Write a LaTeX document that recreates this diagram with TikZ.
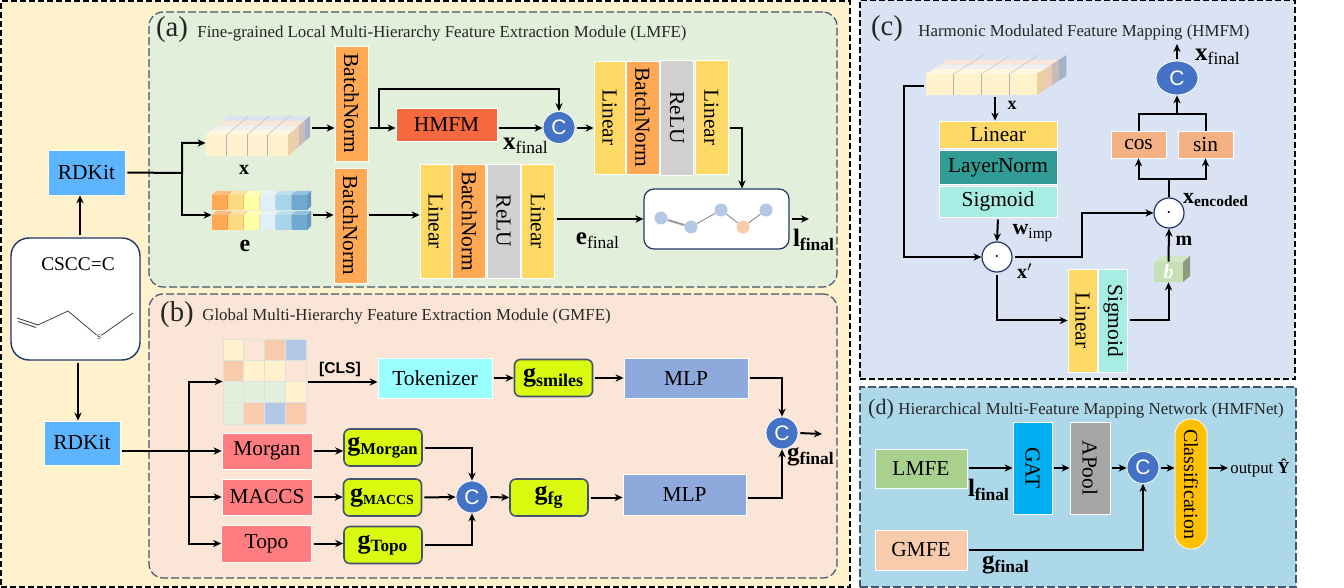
\documentclass[tikz,border=0pt]{standalone}
\usepackage{fontspec}
\setmainfont{Liberation Serif}
\setsansfont{Liberation Sans}
\usetikzlibrary{arrows.meta, positioning, shapes.geometric, calc}
\definecolor{OuterYellow}{RGB}{255, 242, 204}
\definecolor{LocalGreen}{RGB}{226, 239, 218}
\definecolor{GlobalPink}{RGB}{251, 229, 214}
\definecolor{HarmBlue}{RGB}{218, 227, 243}
\definecolor{NetBlue}{RGB}{173, 216, 234}
\definecolor{PanelLine}{RGB}{68, 84, 106}
\definecolor{NavyLine}{RGB}{31, 56, 100}
\definecolor{RdkitBlue}{RGB}{93, 181, 255}
\definecolor{NormOrange}{RGB}{255, 169, 85}
\definecolor{LinearYellow}{RGB}{255, 217, 102}
\definecolor{ReluGray}{RGB}{208, 208, 208}
\definecolor{HmfmRed}{RGB}{244, 105, 61}
\definecolor{CatBlue}{RGB}{68, 114, 196}
\definecolor{TokenCyan}{RGB}{153, 255, 255}
\definecolor{FeatLime}{RGB}{217, 251, 16}
\definecolor{MlpBlue}{RGB}{142, 169, 219}
\definecolor{FingerRed}{RGB}{255, 124, 128}
\definecolor{LayerTeal}{RGB}{49, 155, 149}
\definecolor{SigmaAqua}{RGB}{168, 237, 227}
\definecolor{TrigOrange}{RGB}{244, 177, 131}
\definecolor{CubeGreen}{RGB}{197, 224, 180}
\definecolor{LmfeGreen}{RGB}{169, 209, 142}
\definecolor{GmfePeach}{RGB}{248, 203, 173}
\definecolor{GatBlue}{RGB}{0, 176, 240}
\definecolor{PoolGray}{RGB}{166, 166, 166}
\definecolor{ClassGold}{RGB}{255, 192, 0}
\definecolor{CellBlue}{RGB}{180, 199, 231}
\definecolor{EmbAmber}{RGB}{255, 217, 127}
\definecolor{EmbLemon}{RGB}{255, 255, 165}
\definecolor{EmbPale}{RGB}{224, 240, 248}
\definecolor{EmbSky}{RGB}{168, 213, 234}
\definecolor{EmbDeep}{RGB}{111, 168, 208}
\newcommand{\vtext}[1]{\rotatebox{-90}{#1}}
\newcommand{\feat}[2]{\textbf{#1}\textsubscript{#2}}
\newcommand{\featb}[2]{\textbf{#1}\textsubscript{\textbf{#2}}}
\newcommand{\gfeat}[2][8.3]{\textbf{g}\textsubscript{\textbf{\fontsize{#1}{9}\selectfont #2}}}
\tikzset{
  box/.style={rectangle, draw=white, fill=#1, inner sep=0pt, text=black,
              font=\fontsize{10.7}{12}\selectfont, align=center},
  gbox/.style={rectangle, rounded corners=3pt, draw=PanelLine, fill=FeatLime, thick,
               minimum width=39pt, minimum height=18.5pt, inner sep=0pt,
               font=\fontsize{13}{14}\selectfont},
  grpbox/.style={rectangle, draw=#1, dash pattern=on 4pt off 1.5pt, line width=0.6pt, inner sep=0pt},
  cat/.style={circle, fill=CatBlue, draw=white, text=white, inner sep=0pt,
              minimum size=16pt, font=\fontsize{10.5}{12}\sffamily},
  dotop/.style={circle, fill=white, draw=NavyLine, line width=0.6pt, inner sep=0pt,
                minimum size=15pt},
  arr/.style={-{Stealth[length=4pt, width=3.6pt]}, line width=1pt, black, shorten <=1pt},
  arrj/.style={arr, shorten <=0pt},
  seg/.style={line width=1pt, black},
  title/.style={anchor=west, inner sep=0pt, font=\fontsize{8.42}{10}\selectfont, text=black!85},
  tag/.style={inner sep=0pt, font=\fontsize{14.4}{16}\selectfont, text=black!85},
  lab/.style={inner sep=0pt, font=\fontsize{12.5}{13}\selectfont},
  tenx/.pic={
    \foreach \ta/\tb/\cc in {0/.25/OuterYellow!60!white, .25/.5/black!6, .5/.75/GlobalPink, .75/1/HarmBlue}
      \fill[\cc] ({\ta*22},{-21-\ta*19}) -- ({82+\ta*22},{-21-\ta*19}) -- ({82+\tb*22},{-21-\tb*19}) -- ({\tb*22},{-21-\tb*19}) -- cycle;
    \foreach \ta/\tb/\cc in {0/.25/brown!30!OuterYellow, .25/.5/brown!25!GlobalPink, .5/.75/gray!40!GlobalPink, .75/1/gray!30!CellBlue}
      \fill[\cc] ({82+\ta*22},{-\ta*19}) -- ({82+\tb*22},{-\tb*19}) -- ({82+\tb*22},{-21-\tb*19}) -- ({82+\ta*22},{-21-\ta*19}) -- cycle;
    \fill[OuterYellow] (0,0) rectangle (82,-21);
    \foreach \sx in {20.5,41,61.5} {
      \draw[gray!60, line width=0.5pt] (\sx,0) -- (\sx,-21);
      \draw[gray!45, line width=0.3pt] (\sx,-21) -- ({\sx+22},-40);
    }
  },
}
\begin{document}
\begin{tikzpicture}[x=0.5pt, y=-0.5pt]
  \useasboundingbox (0,0) rectangle (1344,588);

  % panels
  \node[grpbox=black, dash pattern=on 3pt off 1.5pt, fill=OuterYellow, minimum width=424.5pt, minimum height=293pt] (outer) at (425.5,294) {};
  \node[grpbox=PanelLine, fill=LocalGreen, rounded corners=7pt, minimum width=344pt, minimum height=137.5pt] (lmfe) at (493,149.5) {};
  \node[grpbox=PanelLine, fill=GlobalPink, rounded corners=7pt, minimum width=344pt, minimum height=142pt] (gmfe) at (493,436) {};
  \node[grpbox=black, dash pattern=on 3pt off 1.5pt, fill=HarmBlue, minimum width=217.5pt, minimum height=189.5pt] (hmfm) at (1077.5,189.5) {};
  \node[grpbox=PanelLine, fill=NetBlue, line width=0.8pt, minimum width=218pt, minimum height=100pt] (hmfnet) at (1078,487) {};

  \node[tag] (taga) at (172,30) {(a)};
  \node[title] (titlea) at (197,33) {Fine-grained Local Multi-Hierarchy Feature Extraction Module (LMFE)};
  \node[tag] (tagb) at (177,315) {(b)};
  \node[title] (titleb) at (202,316) {Global Multi-Hierarchy Feature Extraction Module (GMFE)};
  \node[tag] (tagc) at (887,29) {(c)};
  \node[title] (titlec) at (918,32) {Harmonic Modulated Feature Mapping (HMFM)};
  \node[tag, font=\fontsize{11}{12}\selectfont] (tagd) at (881,409) {(d)};
  \node[title] (titled) at (898,410) {Hierarchical Multi-Feature Mapping Network (HMFNet)};

  % molecule
  \node[rectangle, rounded corners=9pt, draw=NavyLine, line width=0.7pt, fill=white,
        minimum width=64.5pt, minimum height=61pt] (mol) at (75.5,299) {};
  \node[inner sep=0pt, font=\fontsize{9.7}{11}\selectfont] (smiles) at (78,264) {CSCC=C};
  \node[inner sep=0pt, font=\fontsize{3.5}{4}\selectfont] (sulfur) at (99,337) {S};
  \draw[black!75, line width=0.4pt] (17,318) -- (38,325) -- (68,311) -- (sulfur) -- (133,313);
  \draw[black!75, line width=0.4pt] (18,321.5) -- (36,327.5);
  \node[box=RdkitBlue, minimum width=38.5pt, minimum height=22.5pt] (rdka) at (86.5,172.5) {RDKit};
  \node[box=RdkitBlue, minimum width=38pt, minimum height=22pt] (rdkb) at (82,443) {RDKit};

  % lmfe
  \node[minimum width=52pt, minimum height=20pt, inner sep=0pt] (xt) at (258,136) {};
  \pic at (206,156) {tenx};
  \node[inner sep=0pt, font=\fontsize{10}{11}\bfseries\selectfont] (xlab) at (244,170) {x};
  \node[minimum width=49.5pt, minimum height=19.5pt, inner sep=0pt] (et) at (261.5,210.5) {};
  \foreach \ry in {210,230}
    \foreach \cx/\cc in {212/NormOrange, 228/EmbAmber, 244/EmbLemon, 260/EmbPale, 276/EmbSky, 292/EmbDeep} {
      \fill[\cc!75!white] (\cx,\ry-15) -- (\cx+4,\ry-19) -- (\cx+19,\ry-19) -- (\cx+15,\ry-15) -- cycle;
      \fill[\cc!90!black] (\cx+15,\ry-15) -- (\cx+19,\ry-19) -- (\cx+19,\ry-4) -- (\cx+15,\ry) -- cycle;
      \fill[\cc] (\cx,\ry) rectangle (\cx+15,\ry-15);
    }
  \node[inner sep=0pt, font=\fontsize{12}{13}\bfseries\selectfont] (elab) at (245,246) {e};
  \node[box=NormOrange, minimum width=16.5pt, minimum height=57.5pt] (bna) at (351.5,103.5) {\vtext{BatchNorm}};
  \node[box=NormOrange, minimum width=16.5pt, minimum height=57.5pt] (bnb) at (350.5,225.5) {\vtext{BatchNorm}};
  \node[box=HmfmRed, minimum width=50.5pt, minimum height=16.5pt] (hmfmbox) at (446.5,124.5) {HMFM};
  \node[cat] (cata) at (559,127.5) {C};
  \node[lab] (xfinala) at (526,146) {\feat{x}{final}};

  \node[box=LinearYellow, minimum width=15.5pt, minimum height=56.5pt] (lina) at (609.5,117.5) {\vtext{Linear}};
  \node[box=NormOrange, minimum width=16.5pt, minimum height=56.5pt, right=0.25pt of lina] (bnc) {\vtext{BatchNorm}};
  \node[box=ReluGray, minimum width=16.5pt, minimum height=57.5pt, right=0.25pt of bnc] (relua) {\vtext{ReLU}};
  \node[box=LinearYellow, minimum width=16.5pt, minimum height=57pt, right=0.25pt of relua] (linb) {\vtext{Linear}};

  \node[box=LinearYellow, minimum width=15.5pt, minimum height=57pt] (linc) at (435.5,221) {\vtext{Linear}};
  \node[box=NormOrange, minimum width=16.5pt, minimum height=57pt, right=0.5pt of linc] (bnd) {\vtext{BatchNorm}};
  \node[box=ReluGray, minimum width=16.5pt, minimum height=57pt, right=0.25pt of bnd] (relub) {\vtext{ReLU}};
  \node[box=LinearYellow, minimum width=16.5pt, minimum height=57pt, right=0.25pt of relub] (lind) {\vtext{Linear}};
  \node[lab] (efinal) at (598,241) {\feat{e}{final}};

  \node[rectangle, rounded corners=5pt, draw=NavyLine, line width=0.6pt, fill=white,
        minimum width=72.5pt, minimum height=30pt] (graph) at (716.5,219) {};
  \foreach \gn/\gx/\gy/\gc in {ga/661/218/CellBlue, gb/691/227/CellBlue, gc/721/210/CellBlue, gd/743/227/GmfePeach, ge/766/210/CellBlue}
    \node[circle, fill=\gc, inner sep=0pt, minimum size=6.5pt] (\gn) at (\gx,\gy) {};
  \draw[gray!80, line width=1pt] (ga) -- (gb);
  \draw[gray, line width=0.4pt] (gb) -- (gc) -- (gd) -- (ge);
  \node[lab] (lfinala) at (814,240) {\featb{l}{final}};

  % gmfe
  \node[minimum width=41.5pt, minimum height=42.5pt, inner sep=0pt] (grid) at (264.5,381.5) {};
  \foreach \gr [count=\j from 0] in {
      {OuterYellow,GlobalPink,GmfePeach,CellBlue},
      {GmfePeach,OuterYellow,OuterYellow,GlobalPink},
      {LocalGreen,LocalGreen,LocalGreen,OuterYellow},
      {LocalGreen,GmfePeach,CellBlue,GmfePeach}}
    \foreach \cc [count=\i from 0] in \gr
      \draw[fill=\cc, draw=black!12, line width=0.4pt] ({223+\i*20.75},{339+\j*21.25}) rectangle ++(20.75,21.25);
  \node[inner sep=0pt, font=\fontsize{7.8}{9}\sffamily\bfseries] (cls) at (340,369) {[CLS]};
  \node[box=TokenCyan, minimum width=57pt, minimum height=20pt] (token) at (435,378) {Tokenizer};
  \node[gbox] (gsmiles) at (553.5,378) {\gfeat[9]{smiles}};
  \node[box=MlpBlue, minimum width=62pt, minimum height=20pt] (mlpa) at (686,378) {MLP};
  \node[cat] (catb) at (782,433) {C};
  \node[lab, text=black] (gfinala) at (811,457) {\featb{g}{final}};
  \node[box=MlpBlue, minimum width=61.5pt, minimum height=20.5pt] (mlpb) at (684.5,494.5) {MLP};
  \node[gbox] (gfg) at (549,497.5) {\gfeat[9]{fg}};
  \node[cat] (catfg) at (472,497) {C};
  \node[gbox] (gmorgan) at (383,447.5) {\gfeat{Morgan}};
  \node[gbox] (gmaccs) at (382.5,497.5) {\gfeat[6.9]{MACCS}};
  \node[gbox] (gtopo) at (383,545) {\gfeat[8.6]{Topo}};
  \node[box=FingerRed, minimum width=45pt, minimum height=18pt] (morgan) at (267,451) {Morgan};
  \node[box=FingerRed, minimum width=45pt, minimum height=18pt] (maccs) at (267,497) {MACCS};
  \node[box=FingerRed, minimum width=45pt, minimum height=18.5pt] (topo) at (266.5,543.5) {Topo};

  % hmfm
  \node[minimum width=69pt, minimum height=21pt, inner sep=0pt] (xtc) at (995,74) {};
  \pic[xscale=1.35] at (926,95) {tenx};
  \node[inner sep=0pt, font=\fontsize{9}{10}\bfseries\selectfont] (xlabc) at (1012,105) {x};
  \node[box=LinearYellow, minimum width=59pt, minimum height=13.5pt] (linh) at (998,134.5) {Linear};
  \node[box=LayerTeal, minimum width=59pt, minimum height=17pt, below=1pt of linh] (layer) {LayerNorm};
  \node[box=SigmaAqua, minimum width=59pt, minimum height=15.5pt, below=0.25pt of layer] (sigh) {Sigmoid};
  \node[dotop] (dota) at (997,257) {$\cdot$};
  \node[lab, font=\fontsize{11}{12}\selectfont] (wimp) at (1033,233) {\feat{w}{imp}};
  \node[inner sep=0pt, font=\fontsize{10}{11}\selectfont] (xprime) at (1025,271) {\textbf{x}$'$};
  \node[box=LinearYellow, minimum width=14.5pt, minimum height=51.5pt] (linv) at (1082.5,320.5) {\vtext{Linear}};
  \node[box=SigmaAqua, minimum width=14.5pt, minimum height=51.5pt, right=0.5pt of linv] (sigv) {\vtext{Sigmoid}};
  \fill[CubeGreen!80!white] (1154,262) -- (1161,256) -- (1190,256) -- (1183,262) -- cycle;
  \fill[CubeGreen!70!black] (1183,262) -- (1190,256) -- (1190,276) -- (1183,282) -- cycle;
  \node[rectangle, fill=CubeGreen, text=white, inner sep=0pt, minimum width=14.5pt, minimum height=10pt,
        font=\fontsize{10}{11}\bfseries\itshape\selectfont] (bcube) at (1168.5,272) {b};
  \node[dotop] (dotb) at (1169,213) {$\cdot$};
  \node[lab, font=\fontsize{10}{11}\bfseries\selectfont] (mlab) at (1184,241) {m};
  \node[lab, font=\fontsize{11}{12}\selectfont] (xenc) at (1216,200) {\featb{x}{encoded}};
  \node[box=TrigOrange, minimum width=27.5pt, minimum height=13.5pt] (cosn) at (1138.5,144.5) {cos};
  \node[box=TrigOrange, minimum width=27.5pt, minimum height=13.5pt] (sinn) at (1205.5,144.5) {sin};
  \node[ellipse, fill=CatBlue, draw=white, text=white, inner sep=0pt, minimum width=21pt, minimum height=17pt,
        font=\fontsize{10.5}{12}\sffamily] (catc) at (1177,78) {C};
  \node[lab] (xfinalc) at (1218,57) {\feat{x}{final}};

  % hmfnet
  \node[box=LmfeGreen, minimum width=46pt, minimum height=19.5pt] (lmfebox) at (921,468.5) {LMFE};
  \node[box=GmfePeach, minimum width=46pt, minimum height=20pt] (gmfebox) at (921,550) {GMFE};
  \node[box=GatBlue, minimum width=19.5pt, minimum height=46pt] (gat) at (1032.5,468) {\vtext{GAT}};
  \node[box=PoolGray, minimum width=20pt, minimum height=46pt] (apool) at (1090,468) {\vtext{APool}};
  \node[cat] (catd) at (1143,467.5) {C};
  \node[box=ClassGold, font=\fontsize{10}{12}\selectfont, rounded corners=7.9pt, minimum width=16pt, minimum height=65pt] (classif) at (1191,484) {\vtext{Classification}};
  \node[anchor=west, inner sep=0pt, font=\fontsize{8.4}{10}\selectfont] (outlab) at (1230,468) {output \textbf{\^{Y}}};
  \node[lab] (lfinald) at (989,490) {\featb{l}{final}};
  \node[lab] (gfinald) at (1006,565) {\featb{g}{final}};

  % coordinates of shared rows and junctions
  \coordinate (rowa) at (0,128);
  \coordinate (rowb) at (0,215);
  \coordinate (rowc) at (0,219);
  \coordinate (rowd) at (0,86);
  \coordinate (rowf) at (0,468);
  \coordinate (rowg) at (0,382);
  \coordinate (ja) at (182,173);
  \coordinate (jh) at (379,128);
  \coordinate (jt) at (379,89);
  \coordinate (jb) at (189,451);
  \coordinate (jl) at (904,257);
  \coordinate (jm) at (1082,235);
  \coordinate (jc) at (1169,179);
  \coordinate (jd) at (1177,114);
  \coordinate (lout) at (809,219);
  \coordinate (gout) at (822,434);
  \coordinate (xfout) at (1177,44);
  \coordinate (yout) at (1228,468);

  % connectors
  \draw[arr] ([xshift=2.25pt]mol.north) -- ([xshift=2.25pt]mol.north |- rdka.south);
  \draw[arr] ([xshift=1.25pt]mol.south) -- ([xshift=1.25pt]mol.south |- rdkb.north);
  \draw[arr] (rdka.east) -- (ja) |- ([yshift=-3.5pt]xt.west);
  \draw[arrj] (ja) |- ([yshift=-2.25pt]et.west);
  \draw[arr] (xt.east |- rowa) -- (bna.west |- rowa);
  \draw[arr] (et.east |- rowb) -- (bnb.west |- rowb);
  \draw[arr] (bna.east |- rowa) -- (hmfmbox.west |- rowa);
  \draw[arrj] (jh) -- (jt) -| (cata.north);
  \draw[arr] (hmfmbox.east |- rowa) -- (cata.west |- rowa);
  \draw[arr] (cata.east |- rowa) -- (lina.west |- rowa);
  \draw[arr] (linb.east |- rowa) -| ([xshift=12.75pt]graph.north);
  \draw[arr] (bnb.east |- rowb) -- (linc.west |- rowb);
  \draw[arr] (lind.east |- rowc) -- (graph.west |- rowc);
  \draw[arr] (graph.east |- rowc) -- (lout);

  \draw[arr] (rdkb.east |- morgan) -- (morgan.west);
  \draw[arrj] (jb) |- (grid.west);
  \draw[arrj] (jb) |- (topo.west);
  \draw[arrj] (jb |- maccs) -- (maccs.west);
  \draw[arr] (grid.east |- rowg) -- (token.west |- rowg);
  \draw[arr] (token.east) -- (gsmiles.west);
  \draw[arr] (gsmiles.east) -- (mlpa.west);
  \draw[arr] (mlpa.east) -| (catb.north);
  \draw[arr] (mlpb.east |- gfg) -| (catb.south);
  \draw[arr] (catb.east) -- (gout);
  \draw[arr] (morgan.east) -- (morgan.east -| gmorgan.west);
  \draw[arr] (maccs.east) -- (gmaccs.west |- maccs);
  \draw[arr] (topo.east) -- (gtopo.west |- topo);
  \draw[arr] (gmorgan.east) -| (catfg.north);
  \draw[arr] (gmaccs.east) -- (catfg.west);
  \draw[arr] (gtopo.east) -| (catfg.south);
  \draw[arr] (catfg.east) -- (gfg.west);
  \draw[arr] (gfg.east) -- (gfg.east -| mlpb.west);

  \draw[arr] (xtc.west |- rowd) -- (jl |- rowd) -- (jl) -- (dota.west);
  \draw[arr] (xtc.south) -- (xtc.south |- linh.north);
  \draw[arr] (sigh.south) -- (dota.north);
  \draw[arr] (dota.east) -| (jm) |- (dotb.west);
  \draw[arr] (dota.south) |- (linv.west);
  \draw[arr] (sigv.east) -| (bcube.south);
  \draw[arrj] (bcube.north) -- (dotb.south);
  \draw[seg] (dotb.north) -- (jc);
  \draw[arrj] (jc) -| (cosn.south);
  \draw[arrj] (jc) -| (sinn.south);
  \draw[seg] (cosn.north) |- (jd) -| (sinn.north);
  \draw[arrj] (jd) -- (catc.south);
  \draw[arr] (catc.north) -- (xfout);

  \draw[arr] (lmfebox.east |- rowf) -- (gat.west |- rowf);
  \draw[arr] (gat.east |- rowf) -- (apool.west |- rowf);
  \draw[arr] (apool.east |- rowf) -- (catd.west |- rowf);
  \draw[arr] (catd.east |- rowf) -- (classif.west |- rowf);
  \draw[arr] (classif.east |- rowf) -- (yout);
  \draw[arr] (gmfebox.east) -| (catd.south);
\end{tikzpicture}
\end{document}
